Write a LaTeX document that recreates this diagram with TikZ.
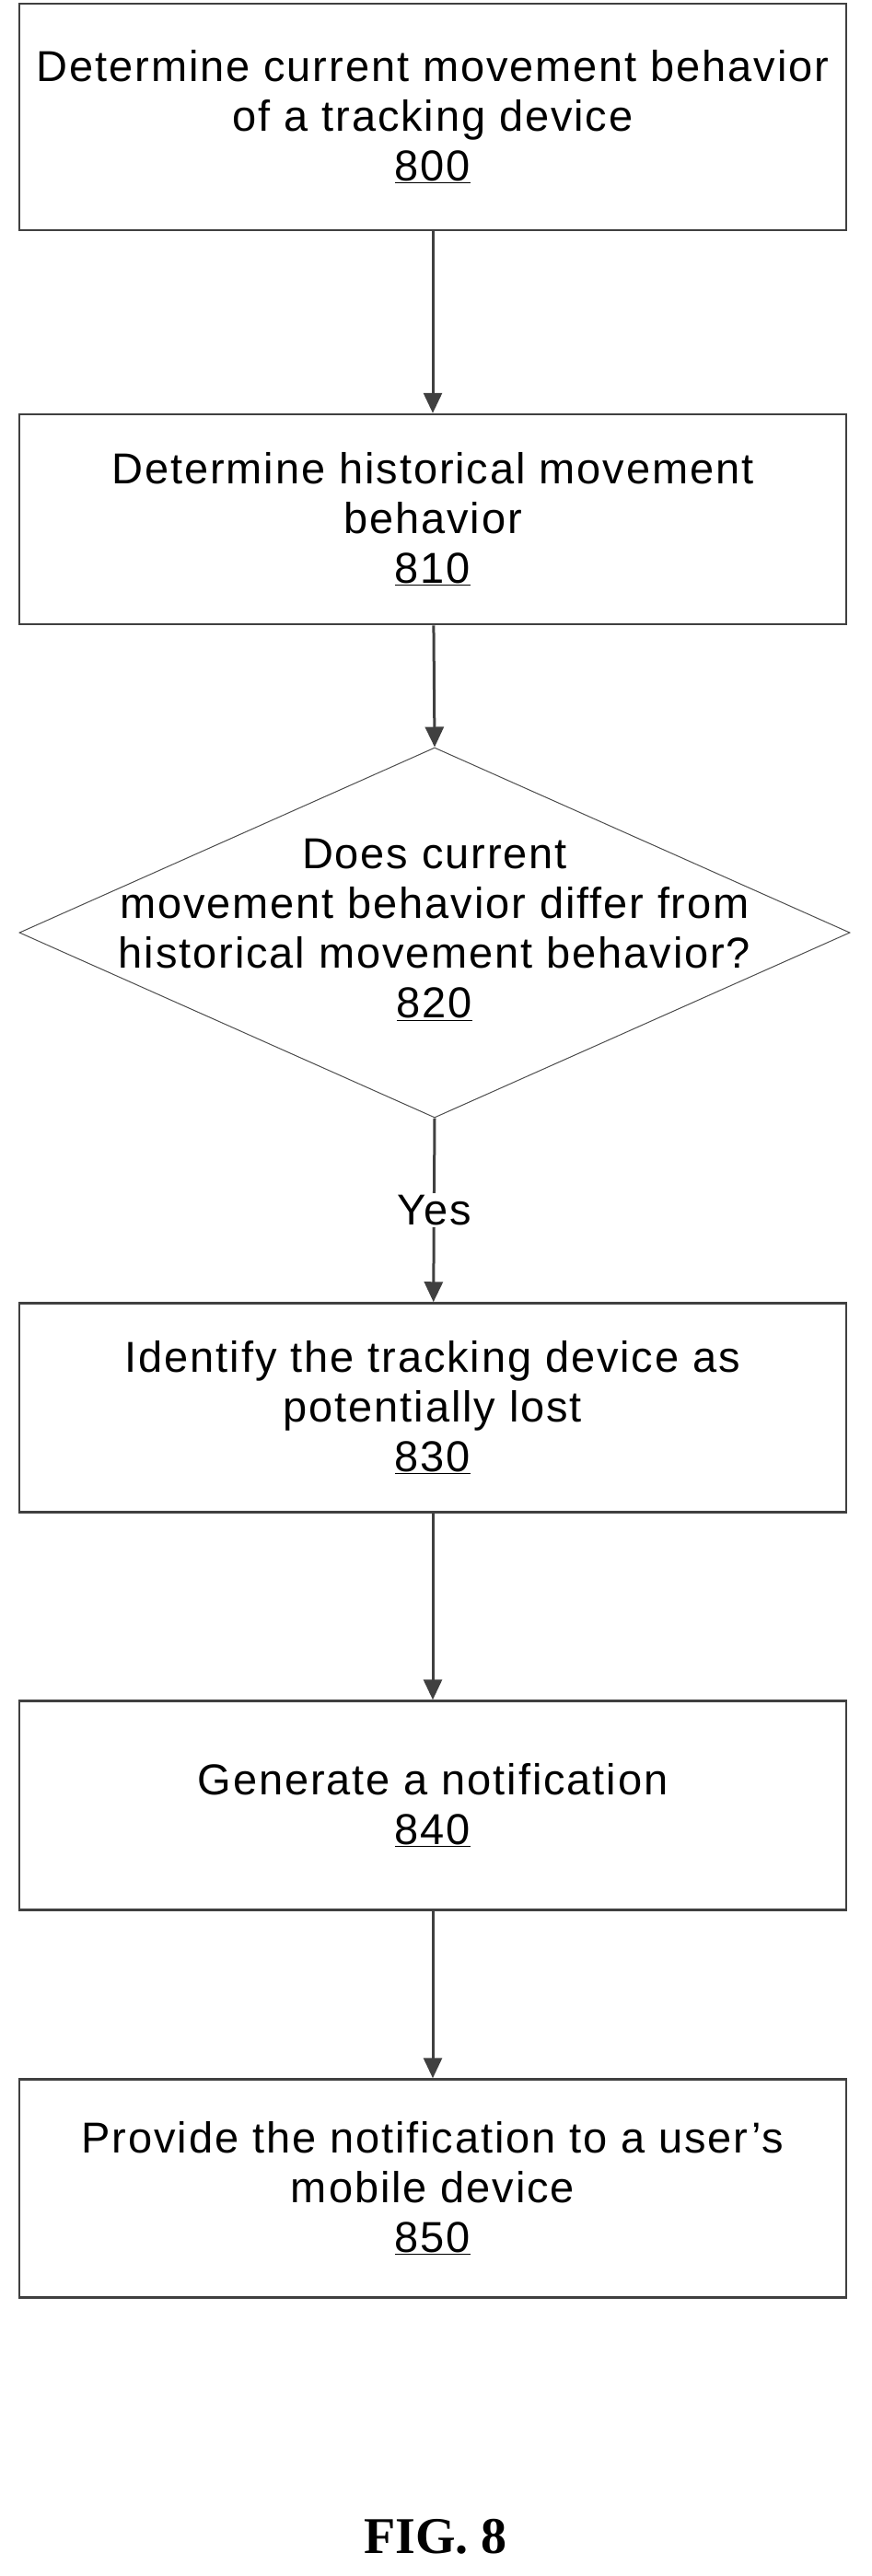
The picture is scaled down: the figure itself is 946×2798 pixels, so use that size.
\documentclass[tikz,border=0pt]{standalone}
\usepackage{fontspec}
\setmainfont{Liberation Sans}[LetterSpace=4]
\newfontfamily\figfont{Liberation Serif}
\usetikzlibrary{shapes.geometric,arrows.meta}
\begin{document}
\begin{tikzpicture}[x=1pt,y=-1pt,
  txt/.style={font=\fontsize{47}{54}\selectfont},
  box/.style={draw=black!75,line width=2.5pt,minimum width=898pt,align=center,txt,inner sep=0pt},
  arr/.style={draw=black!75,line width=3pt,-{Triangle[length=22pt,width=20pt]}}]
\useasboundingbox (0,0) rectangle (946,2798);
\node[box,minimum height=246pt] (a) at (470,127) {Determine current movement behavior\\of a tracking device\\\underline{800}};
\node[box,minimum height=228pt] (b) at (470,564) {Determine historical movement\\behavior\\\underline{810}};
\node[draw=black!70,line width=1pt,diamond,aspect=2.24,inner sep=0pt,minimum width=902pt,minimum height=402pt] (c) at (472,1013) {};
\node[align=center,txt] (ct) at (472,1010) {Does current\\movement behavior differ from\\historical movement behavior?\\\underline{820}};
\node[box,minimum height=227pt] (d) at (470,1529) {Identify the tracking device as\\potentially lost\\\underline{830}};
\node[box,minimum height=227pt] (e) at (470,1961) {Generate a notification\\\underline{840}};
\node[box,minimum height=237pt] (f) at (470,2377) {Provide the notification to a user's\\mobile device\\\underline{850}};
\node[font=\figfont\bfseries\fontsize{56}{60}\selectfont] (g) at (473,2755) {FIG. 8};
\draw[arr] (a) -- (b);
\draw[arr] (b) -- (c.north);
\draw[arr] (c.south) -- node[fill=white,txt,inner sep=2pt]{Yes} (d);
\draw[arr] (d) -- (e);
\draw[arr] (e) -- (f);
\end{tikzpicture}
\end{document}
